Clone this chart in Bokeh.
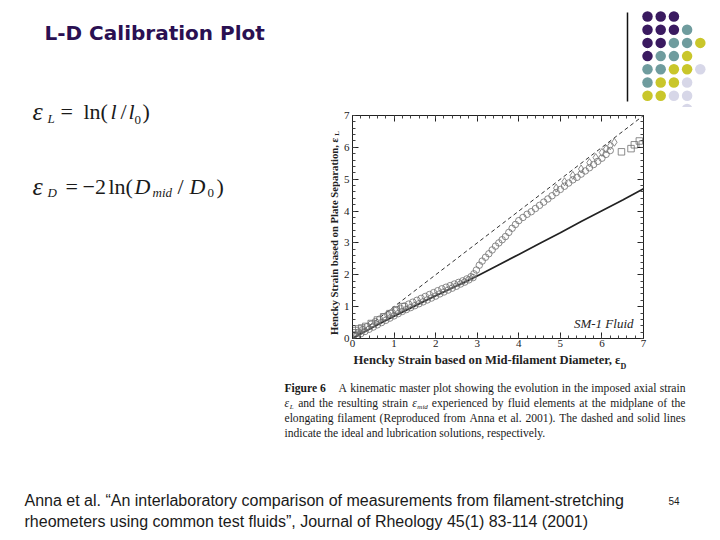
import math
from bokeh.plotting import figure
from bokeh.models import Label, LinearAxis, Range1d, SingleIntervalTicker
from bokeh.layouts import column, row
from bokeh.embed import file_html
from bokeh.resources import INLINE

# ---------------- data ----------------
# lubrication solution (solid line)
lub_x = [0, 0.5, 1, 1.5, 2, 2.5, 3, 3.5, 4, 4.5, 5, 5.5, 6, 6.5, 7]
lub_y = [0, 0.36, 0.70, 1.02, 1.34, 1.65, 1.96, 2.30, 2.64, 2.98, 3.32, 3.67, 4.01, 4.35, 4.70]
# ideal solution (dashed line)
ideal_x = [0, 7]
ideal_y = [0, 7]
# measured data, circles (upper band)
circ_x = [0.05, 0.15, 0.25, 0.35, 0.45, 0.55, 0.65, 0.75, 0.85, 0.95, 1.05, 1.15, 1.25, 1.35,
          1.45, 1.55, 1.65, 1.75, 1.85, 1.95, 2.05, 2.15, 2.25, 2.35, 2.45, 2.55, 2.65, 2.75,
          2.85, 2.92, 2.98, 3.05, 3.12, 3.2, 3.28, 3.36, 3.44, 3.52, 3.6, 3.68, 3.76, 3.84,
          3.92, 4.0, 4.1, 4.2, 4.3, 4.4, 4.5, 4.6, 4.7, 4.8, 4.9, 5.0, 5.1, 5.2, 5.3, 5.4,
          5.5, 5.6, 5.7, 5.8, 5.9, 6.0, 6.1, 6.2]
circ_y = [0.12, 0.20, 0.28, 0.37, 0.45, 0.53, 0.61, 0.68, 0.75, 0.82, 0.88, 0.95, 1.02, 1.08,
          1.14, 1.20, 1.26, 1.32, 1.38, 1.44, 1.50, 1.56, 1.61, 1.66, 1.71, 1.76, 1.81, 1.87,
          1.94, 2.03, 2.15, 2.30, 2.43, 2.55, 2.66, 2.78, 2.90, 3.00, 3.10, 3.20, 3.33, 3.46,
          3.58, 3.70, 3.80, 3.90, 3.98, 4.08, 4.18, 4.28, 4.38, 4.48, 4.58, 4.68, 4.78, 4.88,
          4.98, 5.06, 5.16, 5.26, 5.36, 5.46, 5.56, 5.66, 5.78, 5.90]
# measured data, circles lying on the lubrication line
low_x = [0.1, 0.2, 0.3, 0.4, 0.5, 0.6, 0.7, 0.8, 0.9, 1.0, 1.1, 1.2, 1.3, 1.4, 1.5, 1.6, 1.7,
         1.8, 1.9, 2.0, 2.1, 2.2, 2.3, 2.4, 2.5, 2.6, 2.7, 2.8, 2.9]
low_y = [0.08, 0.15, 0.22, 0.29, 0.36, 0.43, 0.50, 0.57, 0.64, 0.71, 0.78, 0.85, 0.91, 0.97,
         1.03, 1.09, 1.15, 1.21, 1.27, 1.33, 1.40, 1.46, 1.52, 1.58, 1.64, 1.71, 1.77, 1.84, 1.91]
# measured data, diamonds (upper row near the end)
dia_x = [4.9, 5.1, 5.3, 5.5, 5.7, 5.85, 6.0, 6.1, 6.2, 6.3]
dia_y = [4.72, 4.92, 5.12, 5.32, 5.52, 5.68, 5.84, 5.95, 6.05, 6.16]
# measured data, squares
sq_x = [0.03, 0.08, 0.15, 0.22, 0.32, 0.45, 0.6, 0.75, 0.9, 1.05, 1.2,
        6.47, 6.7, 6.78, 6.9, 6.97]
sq_y = [0.18, 0.25, 0.30, 0.33, 0.38, 0.47, 0.58, 0.68, 0.78, 0.90, 1.0,
        5.86, 5.96, 6.08, 6.20, 6.10]

title_text = "L-D Calibration Plot"
x_title = "Hencky Strain based on Mid-filament Diameter, \u03b5"
y_title = "Hencky Strain based on Plate Separation, \u03b5"
fluid_text = "SM-1 Fluid"
cap_1 = "A kinematic master plot showing the evolution in the imposed axial strain"
cap_2a = "and the resulting strain"
cap_2b = "experienced by fluid elements at the midplane of the"
cap_3 = "elongating filament (Reproduced from Anna et al. 2001). The dashed and solid lines"
cap_4 = "indicate the ideal and lubrication solutions, respectively."
footer_1 = "Anna et al. \u201cAn interlaboratory comparison of measurements from filament-stretching"
footer_2 = "rheometers using common test fluids\u201d, Journal of Rheology 45(1) 83-114 (2001)"
page_no = "54"

# decorative dot grid (colour code per row)
dot_rows = ["PPP", "PPPT", "PPTTY", "PTTY", "TTYYL", "TYYL", "YYLL", "   L"]
dot_colors = {"P": "#3a1a60", "T": "#6f9c9e", "Y": "#c9c62a", "L": "#d7d7e8"}

SERIF = "Liberation Serif"
SANS = "Liberation Sans"
INK = "#1a1a1a"

# Times (Liberation Serif) advance widths, 1/1000 em, used to justify the caption
TIMES_W = {" ": 250, "(": 333, ")": 333, ",": 250, "-": 333, ".": 250, "/": 278,
           "A": 722, "R": 667, "T": 611, "F": 556,
           "a": 444, "b": 500, "c": 444, "d": 500, "e": 444, "f": 333, "g": 500, "h": 500,
           "i": 278, "j": 278, "k": 500, "l": 278, "m": 778, "n": 500, "o": 500, "p": 500,
           "q": 500, "r": 333, "s": 389, "t": 278, "u": 500, "v": 500, "w": 722, "x": 500,
           "y": 500, "z": 444}


def tw(s, size):
    return sum(TIMES_W.get(ch, 500) for ch in s) * size / 1000.0


# ---------------- page layout (page pixels) ----------------
PAGE_W, PAGE_H = 712, 532
SPLIT_X = 340      # left text panel | chart
SPLIT_Y = 351      # chart | caption panel
DOTS_H = 107


def panel(x0, x1, y0, y1):
    f = figure(width=x1 - x0, height=y1 - y0, x_range=Range1d(x0, x1), y_range=Range1d(y1, y0),
               x_axis_type=None, y_axis_type=None, output_backend="svg", toolbar_location=None,
               min_border_left=0, min_border_right=0, min_border_top=0, min_border_bottom=0)
    f.outline_line_color = None
    f.background_fill_color = "white"
    f.border_fill_color = "white"
    return f


def lab(f, text, x, y, size, font=SERIF, style="normal", color=INK,
        align="left", baseline="middle", angle=0.0):
    f.add_layout(Label(x=x, y=y, text=text, text_font=font, text_font_size=f"{size}px",
                       text_font_style=style, text_color=color, text_align=align,
                       text_baseline=baseline, angle=angle))


# ---- left panel: title, equations, y-axis title ----
left = panel(0, SPLIT_X, 0, SPLIT_Y)
lab(left, title_text, 44, 32, 20, font="DejaVu Sans", style="bold", color="#2a1052")

EQ = 22
lab(left, "\u03b5", 32, 111, 26, style="italic")
lab(left, "L", 47, 118, 13, style="italic")
lab(left, "=", 60, 111, EQ)
lab(left, "ln(", 83, 111, EQ)
lab(left, "l", 110, 111, EQ, style="italic")
lab(left, "/", 120, 111, EQ)
lab(left, "l", 128, 111, EQ, style="italic")
lab(left, "0", 134, 119, 13)
lab(left, ")", 142, 111, EQ)

lab(left, "\u03b5", 32, 186, 26, style="italic")
lab(left, "D", 47, 192, 13, style="italic")
lab(left, "=", 65, 186, EQ)
lab(left, "\u22122", 82, 186, EQ)
lab(left, "ln(", 108, 186, EQ)
lab(left, "D", 134, 186, EQ, style="italic")
lab(left, "mid", 152, 192, 13, style="italic")
lab(left, "/", 177, 186, EQ)
lab(left, "D", 189, 186, EQ, style="italic")
lab(left, "0", 207, 192, 13)
lab(left, ")", 216, 186, EQ)

lab(left, y_title, 333.5, 236, 10.7, style="bold", color="#222222", align="center",
    angle=math.pi / 2)
lab(left, "L", 336, 133, 7, style="bold", color="#222222", align="center",
    angle=math.pi / 2)

# ---- dots panel ----
dots = panel(SPLIT_X, PAGE_W, 0, DOTS_H)
dots.line([627, 627], [12, 101], line_color="#111111", line_width=1.5)
dx, dy, dc = [], [], []
for j, rowtxt in enumerate(dot_rows):
    for i, c in enumerate(rowtxt):
        if c == " ":
            continue
        dx.append(647 + 13.2 * i)
        dy.append(16 + 13.2 * j)
        dc.append(dot_colors[c])
dots.scatter(dx, dy, size=10.5, fill_color=dc, line_color=None)

# ---- chart ----
FR_L, FR_R, FR_T, FR_B = 349, 643, 115, 338
chart = figure(width=PAGE_W - SPLIT_X, height=SPLIT_Y - DOTS_H,
               x_range=Range1d(0, 7), y_range=Range1d(0, 7),
               output_backend="svg", toolbar_location=None,
               min_border_left=FR_L - SPLIT_X, min_border_right=PAGE_W - FR_R,
               min_border_top=FR_T - DOTS_H, min_border_bottom=SPLIT_Y - FR_B)
chart.grid.visible = False
chart.outline_line_color = "#222222"
chart.background_fill_color = "white"
chart.border_fill_color = "white"

for ax in [chart.xaxis[0], chart.yaxis[0]]:
    ax.ticker = SingleIntervalTicker(interval=1, num_minor_ticks=5)
    ax.major_tick_in = 6
    ax.major_tick_out = 0
    ax.minor_tick_in = 3
    ax.minor_tick_out = 0
    ax.axis_line_color = "#222222"
    ax.major_tick_line_color = "#222222"
    ax.minor_tick_line_color = "#444444"
    ax.major_label_text_font = SERIF
    ax.major_label_text_font_size = "11px"
    ax.major_label_text_color = "#222222"
    ax.major_label_standoff = 3
chart.xaxis[0].major_label_standoff = 1

for loc in ["above", "right"]:
    ax = LinearAxis(ticker=SingleIntervalTicker(interval=1, num_minor_ticks=5),
                    major_tick_in=6, major_tick_out=0, minor_tick_in=3, minor_tick_out=0,
                    major_label_text_font_size="1px", major_label_text_color=None,
                    major_label_standoff=0,
                    axis_line_color="#222222", major_tick_line_color="#222222",
                    minor_tick_line_color="#444444")
    chart.add_layout(ax, loc)

chart.line(ideal_x, ideal_y, line_color="#333333", line_width=1, line_dash="4 3")
chart.line(lub_x, lub_y, line_color="#222222", line_width=1.7)

mk = dict(fill_color=None, line_color="#6e6e6e", line_width=0.8)
chart.scatter(low_x, low_y, marker="circle", size=6.5, **mk)
chart.scatter(circ_x, circ_y, marker="circle", size=6.5, **mk)
chart.scatter(dia_x, dia_y, marker="diamond", size=8, **mk)
chart.scatter(sq_x, sq_y, marker="square", size=6.5, **mk)

chart.add_layout(Label(x=FR_R - 13 - FR_L, y=FR_B - 323, x_units="screen", y_units="screen",
                       text=fluid_text, text_font=SERIF, text_font_size="13px",
                       text_font_style="italic", text_color="#222222", text_align="right",
                       text_baseline="middle"))

# ---- bottom panel: x-axis title, caption, footer ----
bottom = panel(0, PAGE_W, SPLIT_Y, PAGE_H)
lab(bottom, x_title, 353, 359.5, 12.6, style="bold", color="#222222", baseline="alphabetic")
lab(bottom, "D", 620, 366, 8, style="bold", color="#222222", baseline="alphabetic")

CAP = 11.6
CAP_L, CAP_R = 284, 685


def justify(tokens, y, x0, x1):
    # tokens: list of (kind, text, width); kind "w" plain word, "eps" epsilon + subscript
    total = sum(t[2] for t in tokens)
    gap = (x1 - x0 - total) / (len(tokens) - 1)
    x = x0
    for kind, text, w in tokens:
        if kind == "w":
            lab(bottom, text, x, y, CAP)
        else:
            lab(bottom, "\u03b5", x, y, CAP, style="italic")
            lab(bottom, text, x + 5.2, y + 3, 7, style="italic")
        x += w + gap


def words(s):
    return [("w", t, tw(t, CAP)) for t in s.split()]


lab(bottom, "Figure 6", CAP_L, 388, CAP, style="bold")
justify(words(cap_1), 388, 338, CAP_R)
justify([("eps", "L", 9.5)] + words(cap_2a) + [("eps", "mid", 15.5)] + words(cap_2b),
        403, CAP_L, CAP_R)
justify(words(cap_3), 418, CAP_L, CAP_R)
lab(bottom, cap_4, CAP_L, 433, CAP)

lab(bottom, footer_1, 24, 500, 16, font=SANS)
lab(bottom, footer_2, 24, 521, 16, font=SANS)
lab(bottom, page_no, 668, 500, 10, font=SANS)

page = column(row(left, column(row(dots), chart)), bottom)
open("out.html", "w").write(file_html(page, INLINE))
